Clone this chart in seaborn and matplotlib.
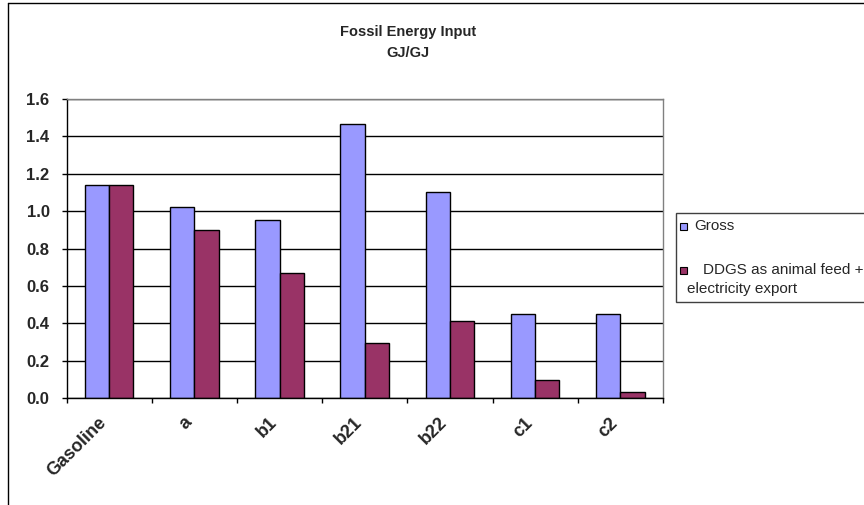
import matplotlib
matplotlib.use("Agg")
import matplotlib.pyplot as plt
import matplotlib.transforms as mtransforms
import seaborn as sns
import pandas as pd
from matplotlib.patches import Rectangle
from matplotlib.lines import Line2D

# Fossil energy input per case (GJ fossil / GJ fuel)
categories = ["Gasoline", "a", "b1", "b21", "b22", "c1", "c2"]
gross = [1.14, 1.02, 0.955, 1.465, 1.105, 0.447, 0.447]
ddgs_export = [1.14, 0.90, 0.67, 0.296, 0.41, 0.094, 0.030]
series_names = ["Gross", "DDGS as animal feed + electricity export"]
series_colors = ["#9999FF", "#993366"]
y_ticks = [0.0, 0.2, 0.4, 0.6, 0.8, 1.0, 1.2, 1.4, 1.6]

df = pd.DataFrame({
    "Case": categories * 2,
    "Series": [series_names[0]] * len(categories) + [series_names[1]] * len(categories),
    "Value": gross + ddgs_export,
})

sns.set_theme(style="white")
plt.rcParams["font.family"] = ["Liberation Sans", "DejaVu Sans"]

W, H = 864, 505
fig = plt.figure(figsize=(W / 100, H / 100), dpi=100)
ax = fig.add_axes([66.5 / W, 1 - 398 / H, (663 - 66.5) / W, (398 - 99) / H])

sns.barplot(data=df, x="Case", y="Value", hue="Series", palette=series_colors,
            hue_order=series_names, width=0.57, gap=0, saturation=1,
            edgecolor="black", linewidth=1, legend=False, ax=ax)

ax.set_xlim(-0.5, len(categories) - 0.5)
ax.set_ylim(0, 1.6)
ax.set_xlabel("")
ax.set_ylabel("")

# horizontal gridlines behind the bars
ax.set_axisbelow(True)
ax.yaxis.grid(True, color="black", linewidth=1)
ax.xaxis.grid(False)

for side in ("left", "bottom"):
    ax.spines[side].set_color("black")
    ax.spines[side].set_linewidth(1)
for side in ("top", "right"):
    ax.spines[side].set_color("#808080")
    ax.spines[side].set_linewidth(1)

ax.set_yticks(y_ticks)
ax.set_yticklabels([f"{v:.1f}" for v in y_ticks], fontsize=12, fontweight="bold")
ax.tick_params(axis="y", direction="out", length=3.6, width=1, color="black",
               pad=8.6, left=True)

# category separators as minor ticks, labels on the major ticks
ax.set_xticks(range(len(categories)))
ax.set_xticks([i - 0.5 for i in range(len(categories) + 1)], minor=True)
ax.set_xticklabels(categories, fontsize=13, fontweight="bold", rotation=45,
                   ha="right", va="center", rotation_mode="anchor")
ax.tick_params(axis="x", which="major", length=0, pad=16, bottom=True)
ax.tick_params(axis="x", which="minor", direction="out", length=3.6, width=1,
               color="black", bottom=True)
shift = mtransforms.ScaledTranslation(-5 / 100, 0, fig.dpi_scale_trans)
for lbl in ax.get_xticklabels():
    lbl.set_transform(lbl.get_transform() + shift)

# title
fig.text(408 / W, 1 - 32 / H, "Fossil Energy Input", ha="center", va="center",
         fontsize=10.5, fontweight="bold")
fig.text(408 / W, 1 - 53 / H, "GJ/GJ", ha="center", va="center",
         fontsize=10.5, fontweight="bold")

# chart border (left and top edges)
fig.add_artist(Line2D([8 / W, 8 / W], [0, 1 - 2.5 / H], transform=fig.transFigure,
                      color="black", linewidth=1))
fig.add_artist(Line2D([8 / W, 1], [1 - 2.5 / H, 1 - 2.5 / H], transform=fig.transFigure,
                      color="black", linewidth=1))

# legend box
fig.add_artist(Rectangle((676 / W, 1 - 302 / H), (W + 10 - 676) / W, (302 - 213) / H,
                         transform=fig.transFigure, facecolor="white",
                         edgecolor="#404040", linewidth=1, clip_on=False))
fig.add_artist(Rectangle((680 / W, 1 - 229.5 / H), 7 / W, 7 / H,
                         transform=fig.transFigure, facecolor=series_colors[0],
                         edgecolor="black", linewidth=0.8))
fig.add_artist(Rectangle((680 / W, 1 - 274 / H), 7 / W, 7 / H,
                         transform=fig.transFigure, facecolor=series_colors[1],
                         edgecolor="black", linewidth=0.8))
fig.text(694 / W, 1 - 226 / H, "Gross", ha="left", va="center", fontsize=11)
fig.text(703 / W, 1 - 270 / H, "DDGS as animal feed +", ha="left", va="center", fontsize=11)
fig.text(687 / W, 1 - 289 / H, "electricity export", ha="left", va="center", fontsize=11)

fig.savefig("out.png", dpi=100)
